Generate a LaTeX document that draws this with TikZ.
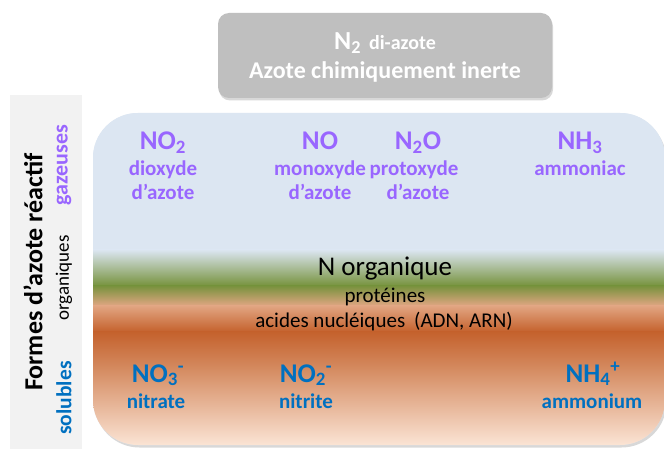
\documentclass[tikz,border=0pt]{standalone}
\usepackage{fontspec}
\setmainfont{Carlito}
\usetikzlibrary{shadows}
\definecolor{purp}{RGB}{153,102,255}
\definecolor{blu}{RGB}{0,112,192}
\definecolor{panel}{HTML}{F2F2F2}
\definecolor{boxgray}{HTML}{BFBFBF}
\definecolor{skyb}{HTML}{DCE6F2}
\definecolor{grn}{HTML}{76923C}
\definecolor{lsal}{HTML}{E2A683}
\definecolor{dor}{HTML}{C4612C}
\definecolor{mor}{HTML}{D58C62}
\definecolor{pale}{HTML}{FBE5D6}
\tikzset{
  txt/.style={inner sep=0pt, anchor=base},
  gasf/.style={txt, text=purp, font=\bfseries\fontsize{27}{31}\selectfont},
  gasn/.style={txt, text=purp, font=\bfseries\fontsize{21}{25}\selectfont},
  solf/.style={txt, text=blu, font=\bfseries\fontsize{27}{31}\selectfont},
  soln/.style={txt, text=blu, font=\bfseries\fontsize{21}{25}\selectfont},
  orgt/.style={txt, text=black, font=\fontsize{21}{25}\selectfont},
  side/.style={inner sep=0pt, rotate=90, anchor=center},
}
\begin{document}
\begin{tikzpicture}[x=1pt,y=-1pt]
\clip (0,0) rectangle (664,449);
\fill[white] (0,0) rectangle (664,449);
% left panel
\fill[panel] (10,95) rectangle (82,452);
\node[side, font=\bfseries\fontsize{26}{30}\selectfont] (formes) at (33,272) {Formes d’azote réactif};
\node[side, text=purp, font=\bfseries\fontsize{22}{26}\selectfont] (gaz) at (64,165) {gazeuses};
\node[side, font=\fontsize{19}{23}\selectfont] (org) at (64,278) {organiques};
\node[side, text=blu, font=\bfseries\fontsize{21.5}{25}\selectfont] (sol) at (64,398) {solubles};
% top box
\fill[boxgray, rounded corners=11pt, drop shadow={shadow xshift=1pt, shadow yshift=-2.5pt, opacity=0.3}] (218,13) rectangle (552,98);
\node[txt, text=white, font=\bfseries] (n2) at (385,50) {\fontsize{26}{30}\selectfont N\textsubscript{2}\hspace{8pt}\fontsize{20}{24}\selectfont di-azote};
\node[txt, text=white, font=\bfseries\fontsize{24}{28}\selectfont] (inerte) at (385,79) {Azote chimiquement inerte};
% main box
\fill[skyb, rounded corners=45pt, drop shadow={shadow xshift=1.5pt, shadow yshift=-2.5pt, opacity=0.3}] (93,113) rectangle (665,445);
\begin{scope}
\clip[rounded corners=45pt] (93,113) rectangle (665,445);
\fill[skyb] (93,113) rectangle (665,250);
\shade[top color=skyb, bottom color=grn] (90,249.5) rectangle (670,286);
\shade[top color=grn, bottom color=lsal] (90,285.5) rectangle (670,306);
\shade[top color=lsal, bottom color=dor] (90,305.5) rectangle (670,332);
\shade[top color=dor, bottom color=mor] (90,331.5) rectangle (670,370);
\shade[top color=mor, bottom color=pale] (90,369.5) rectangle (670,446);
\end{scope}
% gaseous forms
\node[gasf] (no2g) at (163,150) {NO\textsubscript{2}};
\node[gasn] (no2a) at (163,176) {dioxyde};
\node[gasn] (no2b) at (163,200) {d’azote};
\node[gasf] (no) at (320,150) {NO};
\node[gasn] (noa) at (320,176) {monoxyde};
\node[gasn] (nob) at (320,200) {d’azote};
\node[gasf] (n2o) at (418,150) {N\textsubscript{2}O};
\node[gasn] (n2oa) at (414,176) {protoxyde};
\node[gasn] (n2ob) at (418,200) {d’azote};
\node[gasf] (nh3) at (580,150) {NH\textsubscript{3}};
\node[gasn] (nh3a) at (580,176) {ammoniac};
% organic
\node[txt, font=\fontsize{27}{31}\selectfont] (norg) at (385,276) {N organique};
\node[orgt] (prot) at (385,302) {protéines};
\node[orgt] (adn) at (384,327) {acides nucléiques\hspace{9pt}(ADN, ARN)};
% soluble forms
\node[solf] (no3) at (158,382) {NO\textsubscript{3}\textsuperscript{-}};
\node[soln] (no3a) at (156,408) {nitrate};
\node[solf] (no2s) at (306,382) {NO\textsubscript{2}\textsuperscript{-}};
\node[soln] (no2sa) at (306,408) {nitrite};
\node[solf] (nh4) at (593,382) {NH\textsubscript{4}\textsuperscript{+}};
\node[soln] (nh4a) at (592,408) {ammonium};
\end{tikzpicture}
\end{document}
